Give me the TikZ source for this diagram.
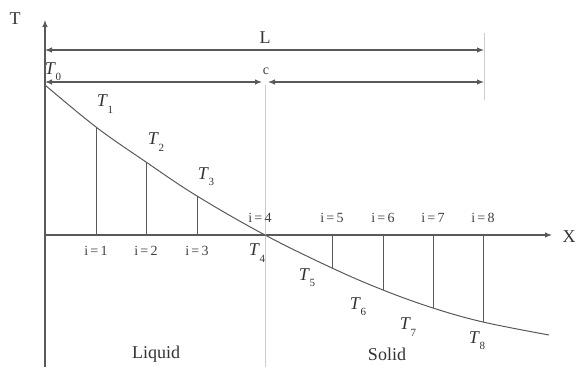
\documentclass[tikz,border=0pt]{standalone}
\usepackage{fontspec}
\setmainfont{Liberation Serif}
\usetikzlibrary{arrows.meta}
\newcommand\Tsb[1]{\textit{T}\kern-0.5pt\raisebox{-0.35em}{\fontsize{11}{12}\selectfont #1}}
\begin{document}
\begin{tikzpicture}[x=1pt,y=-1pt,
  tipA/.tip={Latex[length=7pt,width=5.5pt]},
  ax/.style={line width=1.1pt, draw=black!65, -tipA},
  dimboth/.style={line width=1.1pt, draw=black!65, tipA-tipA},
  guide/.style={line width=0.6pt, draw=black!20},
  tick/.style={line width=1pt, draw=black!65},
  curve/.style={line width=1pt, draw=black!65},
  lbl/.style={font=\fontsize{18}{20}\selectfont, text=black!80, inner sep=0pt},
  ilbl/.style={font=\fontsize{14}{16}\selectfont, text=black!75, inner sep=0pt},
]
\useasboundingbox (0,0) rectangle (578,367);
% axes
\coordinate (Ybot) at (45,367);
\coordinate (Ytop) at (45,20);
\coordinate (Xbeg) at (45,235);
\coordinate (Xend) at (552,235);
\draw[ax] (Ybot) -- (Ytop);
\draw[ax] (Xbeg) -- (Xend);
\node[lbl] (Tlab) at (15,19) {T};
\node[lbl] (Xlab) at (569,237) {X};
% guides
\coordinate (G1t) at (265,85);
\coordinate (G1b) at (265,367);
\coordinate (G2t) at (484,33);
\coordinate (G2b) at (484,100);
\draw[guide] (G1t) -- (G1b);
\draw[guide] (G2t) -- (G2b);
% dimension arrows
\coordinate (La) at (45,50);
\coordinate (Lb) at (484,50);
\draw[dimboth] (La) -- (Lb);
\node[lbl] (Llab) at (265,38) {L};
\coordinate (Ea) at (45,82);
\coordinate (Eb) at (262,82);
\coordinate (Ec) at (268,82);
\coordinate (Ed) at (484,82);
\draw[dimboth] (Ea) -- (Eb);
\draw[dimboth] (Ec) -- (Ed);
\node[ilbl] (clab) at (266,71) {c};
% curve points
\coordinate (P0) at (45,85);
\coordinate (P1) at (96,127);
\coordinate (P2) at (146,162);
\coordinate (P3) at (197,196);
\coordinate (P4) at (265,235);
\coordinate (P5) at (332,268);
\coordinate (P6) at (383,290);
\coordinate (P7) at (433,308);
\coordinate (P8) at (483,322);
\coordinate (P9) at (549,335);
\draw[curve] plot[smooth, tension=0.6] coordinates {(P0) (P1) (P2) (P3) (P4) (P5) (P6) (P7) (P8) (P9)};
% ticks
\foreach \i/\x in {1/96,2/146,3/197,5/332,6/383,7/433,8/483}{
  \coordinate (A\i) at (\x,235);
}
\foreach \i in {1,2,3,5,6,7,8}{ \draw[tick] (A\i) -- (P\i); }
% i labels
\node[ilbl] (i1) at (96,251) {i\,=\,1};
\node[ilbl] (i2) at (146,251) {i\,=\,2};
\node[ilbl] (i3) at (197,251) {i\,=\,3};
\node[ilbl] (i4) at (260,218) {i\,=\,4};
\node[ilbl] (i5) at (332,218) {i\,=\,5};
\node[ilbl] (i6) at (383,218) {i\,=\,6};
\node[ilbl] (i7) at (433,218) {i\,=\,7};
\node[ilbl] (i8) at (483,218) {i\,=\,8};
% T labels
\node[lbl] (T0) at (53,72) {\Tsb{0}};
\node[lbl] (T1) at (105,104) {\Tsb{1}};
\node[lbl] (T2) at (156,142) {\Tsb{2}};
\node[lbl] (T3) at (206,177) {\Tsb{3}};
\node[lbl] (T4) at (257,253) {\Tsb{4}};
\node[lbl] (T5) at (307,278) {\Tsb{5}};
\node[lbl] (T6) at (358,307) {\Tsb{6}};
\node[lbl] (T7) at (408,327) {\Tsb{7}};
\node[lbl] (T8) at (477,341) {\Tsb{8}};
% region labels
\node[lbl] (liq) at (156,354) {Liquid};
\node[lbl] (sol) at (387,354) {Solid};
\end{tikzpicture}
\end{document}
